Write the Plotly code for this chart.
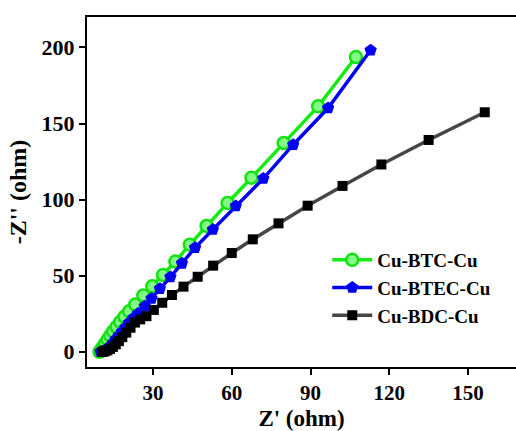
import plotly.graph_objects as go

# Cu-BTC-Cu
btc_x = [9.6, 10.0, 10.5, 11.1, 11.8, 12.7, 13.7, 14.8, 16.1, 17.5, 19.1, 20.9, 23.2, 26.3, 29.7,
         33.8, 38.5, 44.0, 50.4, 58.4, 67.5, 79.8, 92.9, 107.3]
btc_y = [0.0, 0.8, 2.0, 3.6, 5.6, 8.0, 10.6, 13.4, 16.4, 19.6, 23.0, 26.6, 31.0, 37.0, 43.0,
         50.5, 59.3, 70.4, 82.7, 97.8, 114.4, 137.2, 161.3, 193.7]
# Cu-BTEC-Cu
btec_x = [10.0, 10.6, 11.4, 12.3, 13.1, 13.9, 14.8, 15.8, 16.9, 18.1, 19.4, 20.8, 22.5, 24.3, 26.8,
          29.4, 32.6, 36.6, 41.0, 46.0, 52.8, 61.5, 72.0, 83.4, 96.7, 112.9]
btec_y = [0.0, 0.2, 0.6, 1.4, 2.6, 4.2, 6.0, 8.2, 10.6, 13.2, 16.0, 19.0, 22.2, 25.1, 29.9,
          35.0, 41.5, 49.1, 58.1, 68.4, 80.3, 95.8, 113.8, 136.1, 160.2, 198.1]
# Cu-BDC-Cu
bdc_x = [10.8, 11.6, 12.6, 13.6, 14.7, 15.8, 17.0, 18.3, 19.8, 21.4, 23.1, 25.1, 27.5, 30.3, 33.5,
         37.2, 41.6, 47.0, 52.9, 60.0, 68.0, 77.8, 88.9, 102.2, 117.0, 135.0, 156.4]
bdc_y = [0.0, 0.3, 0.9, 1.9, 3.2, 4.9, 7.0, 9.6, 12.6, 15.8, 19.2, 21.3, 23.4, 27.5, 32.2,
         37.3, 42.8, 49.3, 56.6, 64.9, 73.9, 84.4, 96.0, 109.0, 123.1, 139.2, 157.4]

x_ticks = [30, 60, 90, 120, 150]
y_ticks = [0, 50, 100, 150, 200]

FONT = "Liberation Serif"

fig = go.Figure()
fig.add_trace(go.Scatter(
    x=btc_x, y=btc_y, mode="lines+markers", name="Cu-BTC-Cu",
    line=dict(color="rgb(20,235,20)", width=3.5),
    marker=dict(symbol="circle", size=12, color="rgb(130,255,130)",
                line=dict(color="rgb(20,225,20)", width=2.5)),
))
fig.add_trace(go.Scatter(
    x=btec_x, y=btec_y, mode="lines+markers", name="Cu-BTEC-Cu",
    line=dict(color="rgb(0,0,245)", width=3.5),
    marker=dict(symbol="pentagon", size=13, color="rgb(0,0,245)"),
))
fig.add_trace(go.Scatter(
    x=bdc_x, y=bdc_y, mode="lines+markers", name="Cu-BDC-Cu",
    line=dict(color="rgb(70,70,70)", width=3.5),
    marker=dict(symbol="square", size=10, color="black"),
))

fig.update_layout(
    width=516, height=431,
    margin=dict(l=87, r=0, t=17, b=64),
    paper_bgcolor="white", plot_bgcolor="white",
    font=dict(family=FONT, color="black", weight="bold"),
    showlegend=True,
    legend=dict(
        x=0.56, y=0.36, xanchor="left", yanchor="top",
        font=dict(family=FONT, size=19, color="black", weight="bold"),
        bgcolor="rgba(0,0,0,0)", borderwidth=0, tracegroupgap=0,
        itemwidth=40,
    ),
    xaxis=dict(
        range=[4.83, 168.3], tickvals=x_ticks, ticktext=[str(v) for v in x_ticks],
        showgrid=False, zeroline=False,
        showline=True, linecolor="black", linewidth=2, mirror=True,
        ticks="outside", ticklen=6, tickwidth=2, tickcolor="black",
        tickfont=dict(family=FONT, size=21, color="black", weight="bold"),
        title=dict(text="Z' (ohm)", font=dict(family=FONT, size=23, color="black", weight="bold"),
                   standoff=8),
    ),
    yaxis=dict(
        range=[-10, 220], tickvals=y_ticks, ticktext=[str(v) for v in y_ticks],
        showgrid=False, zeroline=False,
        showline=True, linecolor="black", linewidth=2, mirror=False,
        ticks="outside", ticklen=6, tickwidth=2, tickcolor="black",
        tickfont=dict(family=FONT, size=22, color="black", weight="bold"),
        title=dict(text="-Z'' (ohm)", font=dict(family=FONT, size=24, color="black", weight="bold"),
                   standoff=8),
    ),
)

fig.write_html("out.html")
